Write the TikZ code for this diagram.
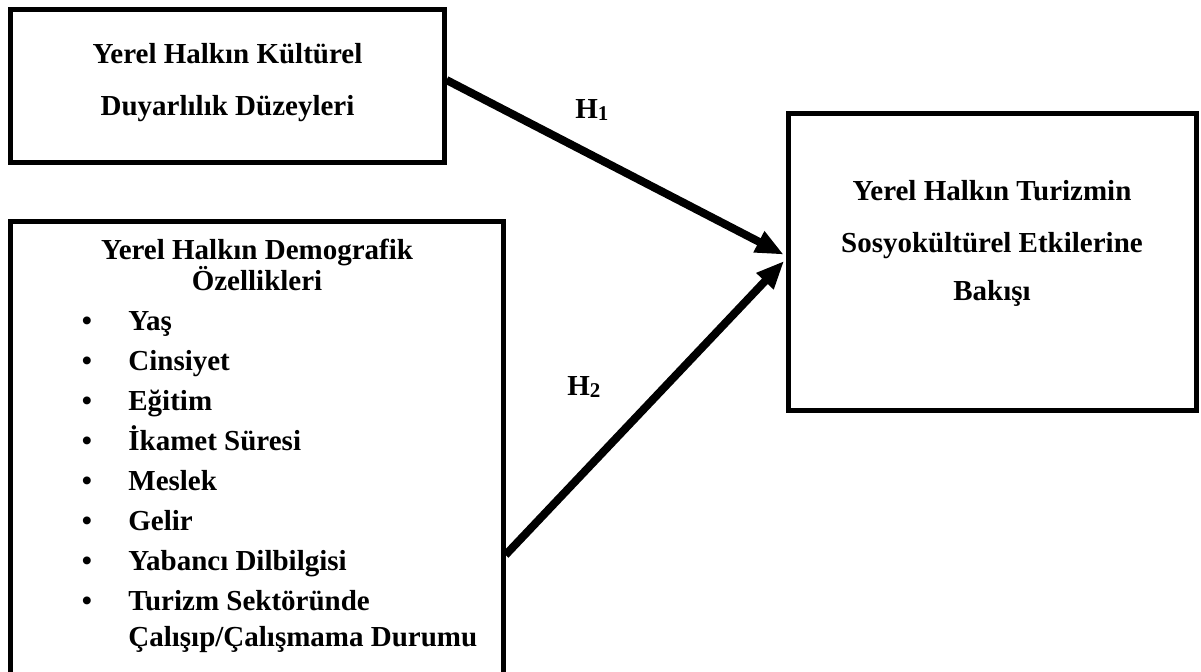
\documentclass[tikz,border=0pt]{standalone}
\usepackage{fontspec}
\setmainfont{Liberation Serif}
\usetikzlibrary{arrows.meta}

\newcommand{\hyp}[1]{H\raisebox{-1pt}{\fontsize{10.5}{10.5}\selectfont #1}}

\begin{document}
\begin{tikzpicture}[x=0.5pt, y=-0.5pt,
    box/.style={draw, line width=2.5pt, inner sep=0pt},
    txt/.style={anchor=base, inner sep=0pt, font=\fontsize{14.5}{17}\selectfont\bfseries},
    arr/.style={-{Triangle[length=14pt, width=11pt]}, line width=4pt}]
    \useasboundingbox (0, 0) rectangle (1201, 671);
    \clip (0, 0) rectangle (1201, 671);

    % boxes
    \node[box, minimum width=217pt, minimum height=76.5pt] (kultur) at (227, 86) {};
    \node[box, minimum width=246.5pt, minimum height=250pt] (demo) at (256.5, 471) {};
    \node[box, minimum width=204pt, minimum height=148.5pt] (sosyo) at (992, 261.5) {};

    \node[txt] (k1) at (227.5, 63) {Yerel Halkın Kültürel};
    \node[txt] (k2) at (227.5, 115) {Duyarlılık Düzeyleri};

    \node[txt] (d1) at (257, 259) {Yerel Halkın Demografik};
    \node[txt] (d2) at (257, 290) {Özellikleri};
    \foreach \item [count=\i from 0] in {Yaş, Cinsiyet, Eğitim, İkamet Süresi,
        Meslek, Gelir, Yabancı Dilbilgisi, Turizm Sektöründe} {
      \node[txt] (dot\i) at (87, 330+40*\i) {\textbullet};
      \node[txt, anchor=base west] (item\i) at (128, 330+40*\i) {\item};
    }
    \node[txt, anchor=base west] (item8) at (128, 646) {Çalışıp/Çalışmama Durumu};

    \node[txt] (s1) at (992, 200) {Yerel Halkın Turizmin};
    \node[txt] (s2) at (992, 252) {Sosyokültürel Etkilerine};
    \node[txt] (s3) at (992, 300) {Bakışı};

    % hypotheses
    \draw[arr, shorten >=1pt] ([yshift=3pt]kultur.east) -- ([yshift=3pt]sosyo.west);
    \draw[arr, shorten >=1pt] ([yshift=-42pt]demo.east) -- ([yshift=1pt]sosyo.west);
    \node[txt, anchor=base west] (h1) at (575, 118) {\hyp{1}};
    \node[txt, anchor=base west] (h2) at (567, 395) {\hyp{2}};
\end{tikzpicture}
\end{document}
